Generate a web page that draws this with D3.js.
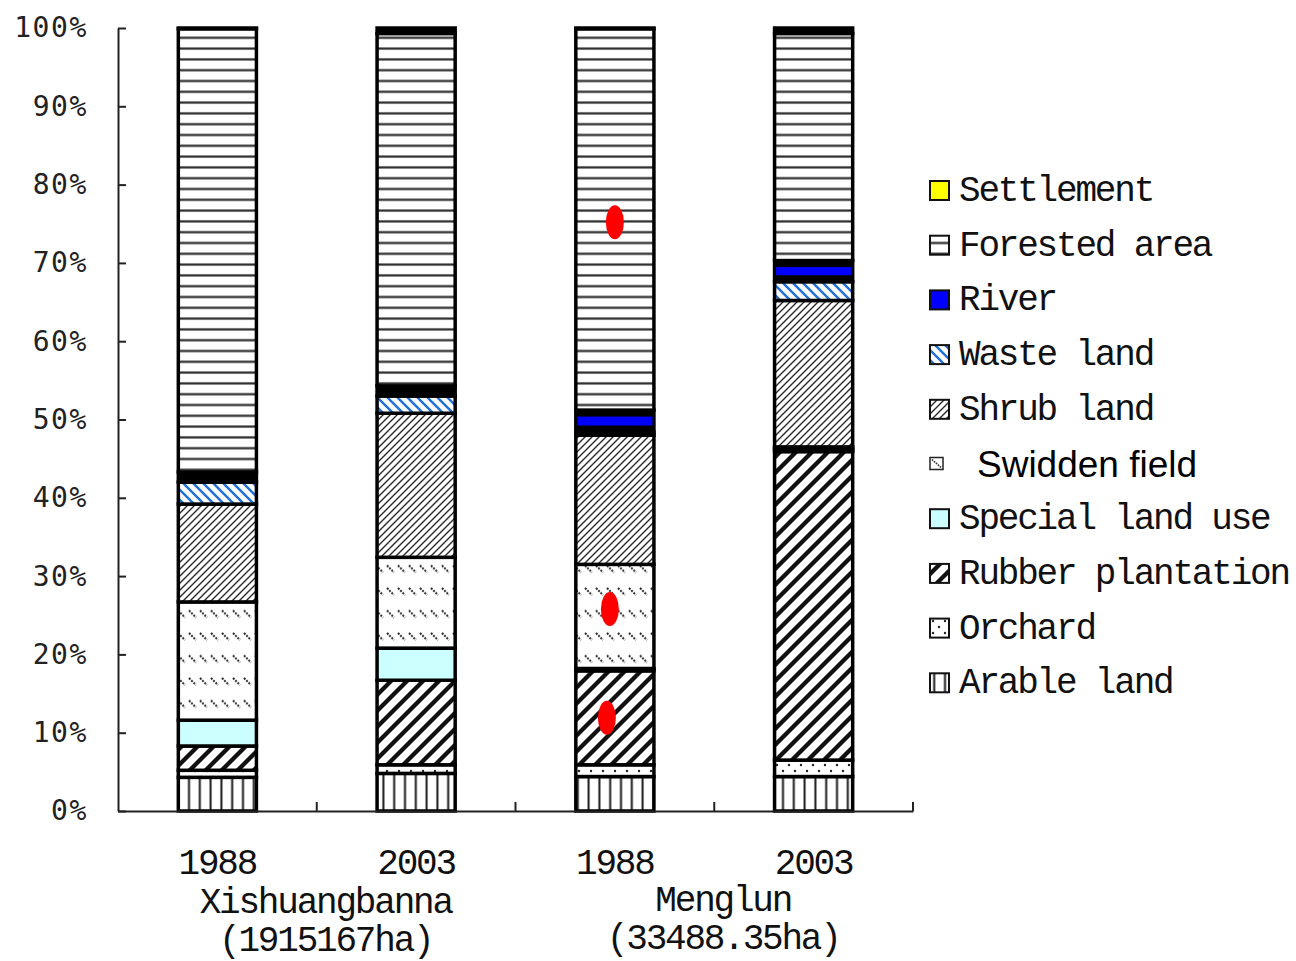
<!DOCTYPE html>
<html>
<head>
<meta charset="utf-8">
<script src="https://cdn.jsdelivr.net/npm/d3@7/dist/d3.min.js"></script>
<style>
  html, body { margin: 0; padding: 0; background: #fff; }
  svg { display: block; }
</style>
</head>
<body>
<svg id="chart" width="1296" height="961"></svg>
<script>
// Land-use composition (% of total area) for two regions and two years
const barKeys    = ["X1988", "X2003", "M1988", "M2003"];
const yearLabels = ["1988", "2003", "1988", "2003"];
const groupNames = ["Xishuangbanna", "Menglun"];
const groupAreas = ["(1915167ha)", "(33488.35ha)"];

// Series values, bottom of the stack first
const arable     = [4.3, 4.8, 4.4, 4.4];
const orchard    = [0.9, 1.1, 1.5, 2.1];
const rubber     = [3.1, 10.8, 12.0, 39.4];
const special    = [3.3, 4.1, 0.3, 0.3];
const swidden    = [15.1, 11.6, 13.3, 0.3];
const shrub      = [12.5, 18.4, 16.5, 18.7];
const waste      = [2.8, 2.2, 0.4, 2.4];
const river      = [1.3, 1.3, 2.8, 2.7];
const forest     = [56.6, 45.0, 48.7, 29.0];
const settlement = [0.1, 0.7, 0.1, 0.7];

const seriesKeys   = ["arable", "orchard", "rubber", "special", "swidden", "shrub", "waste", "river", "forest", "settlement"];
const seriesNames  = ["Arable land", "Orchard", "Rubber plantation", "Special land use", "Swidden field",
                      "Shrub land", "Waste land", "River", "Forested area", "Settlement"];
const seriesValues = [arable, orchard, rubber, special, swidden, shrub, waste, river, forest, settlement];

const yTicks = [0, 10, 20, 30, 40, 50, 60, 70, 80, 90, 100];

// Red annotation marks placed on the Menglun 1988 column
const markBar    = ["M1988", "M1988", "M1988"];
const markValues = [75.2, 25.8, 11.9];

// ---- build rows for d3.stack
const rows = barKeys.map((k, i) => {
  const r = { key: k };
  seriesKeys.forEach((s, j) => { r[s] = seriesValues[j][i]; });
  return r;
});

const svg = d3.select("#chart");
const plotLeft = 118, plotRight = 913, plotTop = 28, plotBottom = 811;

const x = d3.scaleBand().domain(barKeys).range([plotLeft, plotRight])
  .paddingInner(0.607).paddingOuter(0.3035);
const y = d3.scaleLinear().domain([0, 100]).range([plotBottom, plotTop]);

// ---- fill patterns
const defs = svg.append("defs");
function pattern(id, w, h, draw) {
  const p = defs.append("pattern").attr("id", id)
    .attr("patternUnits", "userSpaceOnUse").attr("width", w).attr("height", h);
  p.append("rect").attr("width", w).attr("height", h).attr("fill", "#fff");
  draw(p);
}
pattern("p-forest", 12, 10.8, p => p.append("line")
  .attr("x1", -1).attr("x2", 13).attr("y1", 5.4).attr("y2", 5.4)
  .attr("stroke", "#2a2a2a").attr("stroke-width", 2.2));
pattern("p-arable", 10.8, 12, p => p.append("line")
  .attr("x1", 5.4).attr("x2", 5.4).attr("y1", -1).attr("y2", 13)
  .attr("stroke", "#1a1a1a").attr("stroke-width", 2));
pattern("p-rubber", 16, 16, p => p.append("path")
  .attr("d", "M0,16L16,0M-4,4L4,-4M12,20L20,12")
  .attr("stroke", "#111").attr("stroke-width", 4.3));
pattern("p-shrub", 7, 7, p => p.append("path")
  .attr("d", "M0,7L7,0M-2,2L2,-2M5,9L9,5")
  .attr("stroke", "#2a2a2a").attr("stroke-width", 1.4));
pattern("p-swidden", 11, 22.5, p => p.append("path")
  .attr("d", "M2,3L9,10")
  .attr("stroke", "#222").attr("stroke-width", 2).attr("stroke-dasharray", "2 1.2"));
pattern("p-waste", 10, 10, p => p.append("path")
  .attr("d", "M0,0L10,10M-2,8L2,12M8,-2L12,2")
  .attr("stroke", "#2070d8").attr("stroke-width", 2.4));
pattern("p-orchard", 12, 12, p => {
  p.append("circle").attr("cx", 3).attr("cy", 3).attr("r", 1.2).attr("fill", "#222");
  p.append("circle").attr("cx", 9).attr("cy", 9).attr("r", 1.2).attr("fill", "#222");
});

const fills = {
  arable: "url(#p-arable)", orchard: "url(#p-orchard)", rubber: "url(#p-rubber)",
  special: "#ccffff", swidden: "url(#p-swidden)", shrub: "url(#p-shrub)",
  waste: "url(#p-waste)", river: "#0000ff", forest: "url(#p-forest)", settlement: "#ffff00"
};
// solid-coloured series drawn with a heavy inner edge
const heavyEdge = { river: 6.5, settlement: 6.5 };
const edgeWidth = 3.5;

// ---- stacked columns
const stacked = d3.stack().keys(seriesKeys)(rows);
const barsG = svg.append("g");
stacked.forEach(layer => {
  const key = layer.key;
  const g = barsG.append("g").attr("class", "series-" + key);
  layer.forEach(d => {
    const x0 = x(d.data.key), w = x.bandwidth();
    const y0 = y(d[1]), h = y(d[0]) - y(d[1]);
    if (heavyEdge[key]) {
      g.append("rect").attr("x", x0).attr("y", y0).attr("width", w).attr("height", h)
        .attr("fill", "#000").attr("stroke", "#000").attr("stroke-width", edgeWidth);
      const e = heavyEdge[key];
      if (h > 2 * e) {
        g.append("rect").attr("x", x0 + 1.5).attr("y", y0 + e)
          .attr("width", w - 3).attr("height", h - 2 * e).attr("fill", fills[key]);
      }
    } else {
      g.append("rect").attr("x", x0).attr("y", y0).attr("width", w).attr("height", h)
        .attr("fill", fills[key]).attr("stroke", "#000").attr("stroke-width", edgeWidth);
    }
  });
});

// ---- axes
const yAxis = d3.axisLeft(y).tickValues(yTicks).tickFormat(d => d + "%")
  .tickSizeInner(-8).tickSizeOuter(0).tickPadding(30);
const gy = svg.append("g").attr("transform", `translate(${plotLeft},0)`).call(yAxis);
gy.select(".domain").attr("stroke", "#222").attr("stroke-width", 2);
gy.selectAll(".tick line").attr("stroke", "#222").attr("stroke-width", 2);
gy.selectAll(".tick text")
  .attr("font-family", "'DejaVu Sans Mono', monospace").attr("font-size", 28)
  .attr("letter-spacing", 1.6).attr("fill", "#222");

const xAxis = d3.axisBottom(x).tickFormat((d, i) => yearLabels[i]).tickSize(0).tickPadding(0);
const gx = svg.append("g").attr("transform", `translate(0,${plotBottom})`).call(xAxis);
gx.select(".domain").attr("stroke", "#222").attr("stroke-width", 2);
gx.selectAll(".tick text")
  .attr("font-family", "'Liberation Mono', monospace").attr("font-size", 36)
  .attr("letter-spacing", -2.2).attr("fill", "#111")
  .attr("dy", null).attr("y", 63);

// category separators on the x axis
const gaps = d3.range(1, barKeys.length + 1).map(i => plotLeft + i * x.step());
svg.append("g").selectAll("line").data(gaps).join("line")
  .attr("x1", d => d).attr("x2", d => d).attr("y1", plotBottom).attr("y2", plotBottom - 9)
  .attr("stroke", "#222").attr("stroke-width", 2);

// region labels under each pair of years
const groupG = svg.append("g")
  .attr("font-family", "'Liberation Mono', monospace").attr("font-size", 36)
  .attr("letter-spacing", -2.2).attr("fill", "#111").attr("text-anchor", "middle");
groupNames.forEach((name, gi) => {
  const cx = (x(barKeys[gi * 2]) + x(barKeys[gi * 2 + 1]) + x.bandwidth()) / 2 + 9;
  groupG.append("text").attr("x", cx).attr("y", 913 - gi * 2).text(name);
  groupG.append("text").attr("x", cx).attr("y", 951 - gi * 2).text(groupAreas[gi]);
});

// ---- legend (top series first)
const legendOrder = d3.range(seriesKeys.length).reverse();
const lg = svg.append("g");
legendOrder.forEach((si, row) => {
  const key = seriesKeys[si];
  const cy = 190 + row * 54.7;
  if (key === "swidden") {
    lg.append("rect").attr("x", 930).attr("y", cy - 6).attr("width", 13).attr("height", 12)
      .attr("fill", "#fff").attr("stroke", "#222").attr("stroke-width", 1.5);
    lg.append("line").attr("x1", 932).attr("y1", cy - 4).attr("x2", 941).attr("y2", cy + 4)
      .attr("stroke", "#333").attr("stroke-width", 1.6).attr("stroke-dasharray", "1.6 1");
    lg.append("text").attr("x", 977).attr("y", cy + 13)
      .attr("font-family", "'Liberation Sans', Arial, sans-serif").attr("font-size", 37)
      .attr("fill", "#000").text(seriesNames[si]);
  } else {
    lg.append("rect").attr("x", 930).attr("y", cy - 9).attr("width", 19).attr("height", 19)
      .attr("fill", fills[key]).attr("stroke", "#111").attr("stroke-width", 2);
    lg.append("text").attr("x", 959).attr("y", cy + 11)
      .attr("font-family", "'Liberation Mono', monospace").attr("font-size", 36)
      .attr("letter-spacing", -2.2).attr("fill", "#111").text(seriesNames[si]);
  }
});

// ---- red marks
const markOffsets = [0, -5, -8];
svg.append("g").selectAll("ellipse").data(markValues).join("ellipse")
  .attr("cx", (d, i) => x(markBar[i]) + x.bandwidth() / 2 + markOffsets[i])
  .attr("cy", d => y(d))
  .attr("rx", 9).attr("ry", 17).attr("fill", "#ff0000");
</script>
</body>
</html>
